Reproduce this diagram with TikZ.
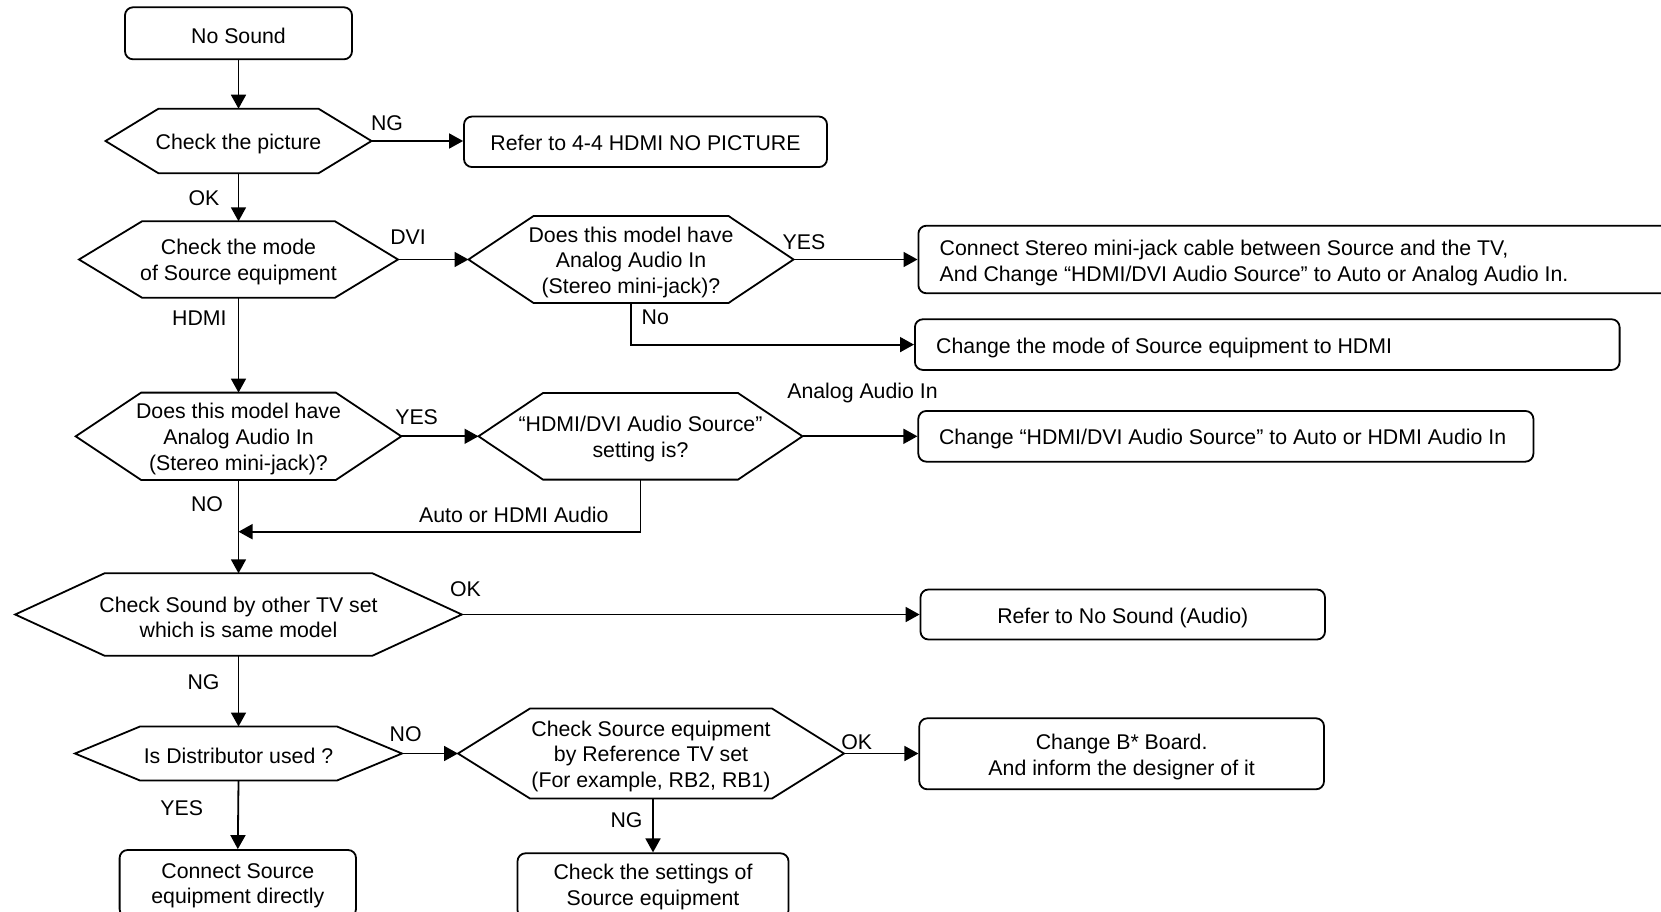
\documentclass[tikz,border=0pt]{standalone}
\usepackage{fontspec}
\setmainfont{Liberation Sans}
\usetikzlibrary{arrows.meta,calc}
\tikzset{
 every node/.style={font=\fontsize{21.3}{25.8}\selectfont, inner sep=0pt},
 hextext/.style={align=center},
 shapeline/.style={draw=black, line width=1.8pt, line join=miter},
 box/.style={draw=black, line width=1.8pt, rounded corners=8pt},
 btext/.style={align=center},
 ltext/.style={align=left, anchor=west},
 arr/.style={line width=1.8pt, -{Triangle[length=14pt,width=15pt]}},
 lbl/.style={},
}
\newcommand\hexa[7]{%
 \node[hextext] (#1) at (#2,#3+2.8) {#7};
 \coordinate (#1-N) at (#2,#3-#5);
 \coordinate (#1-S) at (#2,#3+#5);
 \coordinate (#1-E) at (#2+#4+#6,#3);
 \coordinate (#1-W) at (#2-#4-#6,#3);
 \draw[shapeline] (#2-#4,#3-#5) -- (#2+#4,#3-#5) -- (#1-E) -- (#2+#4,#3+#5) -- (#2-#4,#3+#5) -- (#1-W) -- cycle;
}
\begin{document}
\begin{tikzpicture}[x=1pt,y=-1pt]
\useasboundingbox (0,0) rectangle (1661,912);
\clip (0,0) rectangle (1661,912);
\fill[white] (0,0) rectangle (1661,912);

% boxes
\node[box, minimum width=227pt, minimum height=52pt] (nosnd) at (238.5,33.3) {};
\node[btext] (nosnd-t) at ($(nosnd.center)+(0,2.8)$) {No Sound};
\node[box, minimum width=363pt, minimum height=50.5pt] (ref44) at (645.5,141.8) {};
\node[btext] (ref44-t) at ($(ref44.center)+(0,0.8)$) {Refer to 4-4 HDMI NO PICTURE};
\node[box, minimum width=800pt, minimum height=67.6pt, anchor=west] (stereo) at (917.5,259.5) {};
\node[ltext] (stereo-t) at ($(stereo.west)+(22,3.5)$) {Connect Stereo mini-jack cable between Source and the TV,\\And Change “HDMI/DVI Audio Source” to Auto or Analog Audio In.};
\node[box, minimum width=704.7pt, minimum height=50.7pt, anchor=west] (chmode) at (914,344.6) {};
\node[ltext] (chmode-t) at ($(chmode.west)+(22,3.5)$) {Change the mode of Source equipment to HDMI};
\node[box, minimum width=615.1pt, minimum height=50.7pt, anchor=west] (chaset) at (917.4,436.3) {};
\node[ltext] (chaset-t) at ($(chaset.west)+(21.5,2.8)$) {Change “HDMI/DVI Audio Source” to Auto or HDMI Audio In};
\node[box, minimum width=404.5pt, minimum height=50pt] (refns) at (1122.75,614.5) {};
\node[btext] (refns-t) at ($(refns.center)+(0,3.5)$) {Refer to No Sound (Audio)};
\node[box, minimum width=404.7pt, minimum height=71pt] (chB) at (1121.65,753.8) {};
\node[btext] (chB-t) at ($(chB.center)+(0,2.8)$) {Change B* Board.\\And inform the designer of it};
\node[box, minimum width=236.4pt, minimum height=67pt] (csdir) at (237.8,883.5) {};
\node[btext] (csdir-t) at ($(csdir.center)+(0,2.2)$) {Connect Source\\equipment directly};
\node[box, minimum width=271pt, minimum height=65pt] (csets) at (653,885.8) {};
\node[btext] (csets-t) at ($(csets.center)+(0,1.5)$) {Check the settings of\\Source equipment};

% decisions
\hexa{pic}{238.5}{141}{80}{32.3}{53}{Check the picture}
\hexa{mode}{238.5}{259.5}{96.5}{38.2}{63}{Check the mode\\of Source equipment}
\hexa{dmA}{631}{259.5}{97.5}{43.5}{65}{Does this model have\\Analog Audio In\\(Stereo mini-jack)?}
\hexa{dmB}{238.5}{436.3}{97.3}{43.7}{65.5}{Does this model have\\Analog Audio In\\(Stereo mini-jack)?}
\hexa{aset}{640.5}{436.3}{97.5}{43.3}{64.5}{“HDMI/DVI Audio Source”\\setting is?}
\hexa{snd}{238.5}{614.5}{134}{41.2}{89.3}{Check Sound by other TV set\\which is same model}
\hexa{dist}{238.5}{753.5}{98.5}{27}{65}{Is Distributor used ?}
\hexa{csrc}{651}{753.5}{121}{45}{72}{Check Source equipment\\by Reference TV set\\(For example, RB2, RB1)}

\coordinate (join) at (238.5,531.7);

\draw[arr] (nosnd.south) -- (pic-N);
\draw[arr] (pic-E) -- (pic-E -| ref44.west);
\draw[arr] (pic-S) -- (mode-N);
\draw[arr] (mode-E) -- (dmA-W);
\draw[arr] (dmA-E) -- (dmA-E -| stereo.west);
\draw[arr] (dmA-S) |- (chmode.west);
\draw[arr] (mode-S) -- (dmB-N);
\draw[arr] (dmB-E) -- (aset-W);
\draw[arr] (aset-E) -- (aset-E -| chaset.west);
\draw[arr] (aset-S) |- (join);
\draw[arr] (dmB-S) -- (snd-N);
\draw[arr] (snd-E) -- (snd-E -| refns.west);
\draw[arr] (snd-S) -- (dist-N);
\draw[arr] (dist-E) -- (csrc-W);
\draw[arr] (dist-S) -- (csdir.north);
\draw[arr] (csrc-E) -- (csrc-E -| chB.west);
\draw[arr] (csets.north |- csrc-S) -- (csets.north);

\node[lbl] (l1) at (387,123) {NG};
\node[lbl] (l2) at (204,198) {OK};
\node[lbl] (l3) at (408,237) {DVI};
\node[lbl] (l4) at (804,241.7) {YES};
\node[lbl] (l5) at (655.3,317) {No};
\node[lbl] (l6) at (199.4,318.3) {HDMI};
\node[lbl] (l7) at (416.6,417.3) {YES};
\node[lbl] (l8) at (862.5,392.7) {Analog Audio In};
\node[lbl] (l9) at (513.8,515) {Auto or HDMI Audio};
\node[lbl] (l10) at (207,504) {NO};
\node[lbl] (l11) at (465.5,589) {OK};
\node[lbl] (l12) at (203.5,682.3) {NG};
\node[lbl] (l13) at (405.7,734) {NO};
\node[lbl] (l14) at (181.8,808.3) {YES};
\node[lbl] (l15) at (856.7,741.7) {OK};
\node[lbl] (l16) at (626.5,820) {NG};
\end{tikzpicture}
\end{document}
